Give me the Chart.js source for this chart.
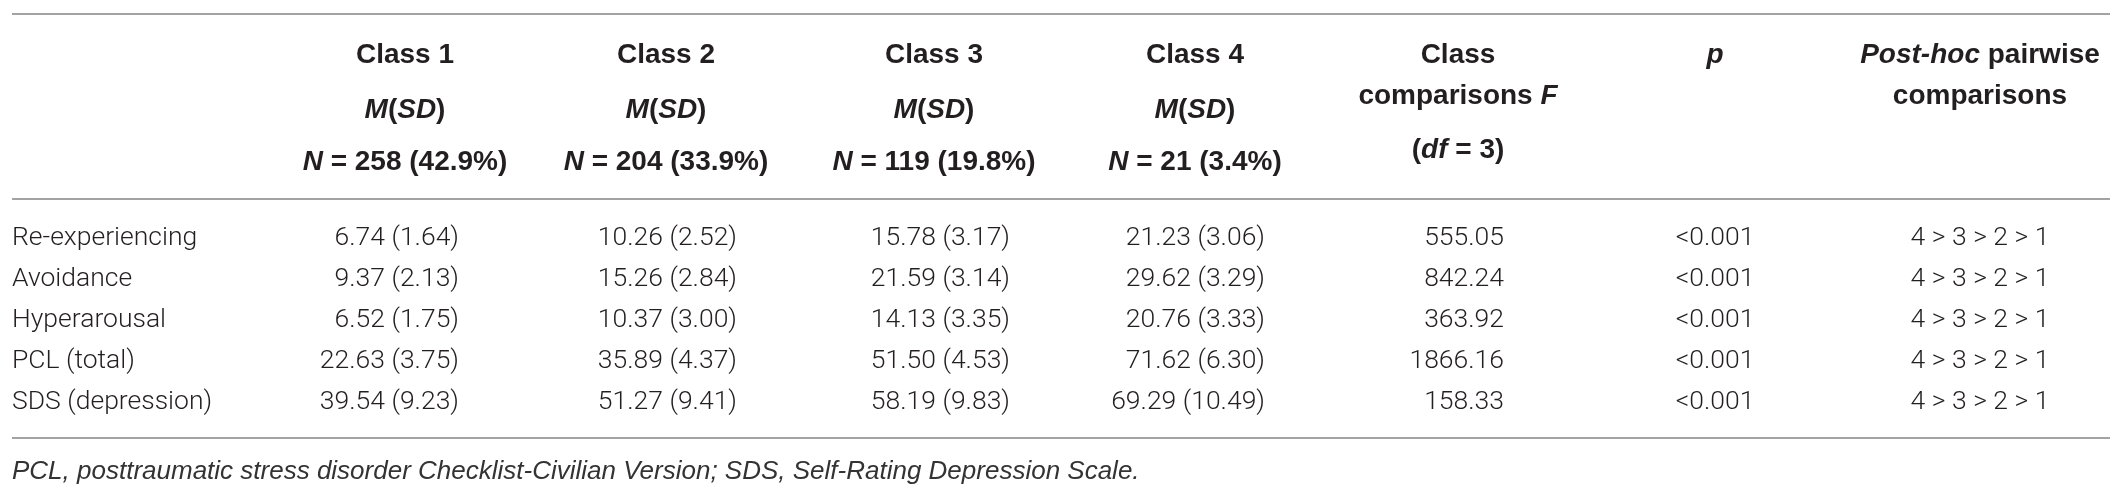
<!DOCTYPE html>
<html>
<head>
<meta charset="utf-8">
<script src="https://cdn.jsdelivr.net/npm/chart.js@4.4.1/dist/chart.umd.min.js"></script>
<style>
  html, body { margin: 0; padding: 0; background: #fff; }
  #wrap { width: 2128px; height: 501px; position: relative; }
</style>
</head>
<body>
<div id="wrap"><canvas id="tableChart"></canvas></div>
<script>
// Table content
var rowLabels = ["Re-experiencing", "Avoidance", "Hyperarousal", "PCL (total)", "SDS (depression)"];
var classNames = ["Class 1", "Class 2", "Class 3", "Class 4"];
var classN = [258, 204, 119, 21];
var classPct = [42.9, 33.9, 19.8, 3.4];

var class1Mean = [6.74, 9.37, 6.52, 22.63, 39.54];
var class1SD = [1.64, 2.13, 1.75, 3.75, 9.23];
var class2Mean = [10.26, 15.26, 10.37, 35.89, 51.27];
var class2SD = [2.52, 2.84, 3.0, 4.37, 9.41];
var class3Mean = [15.78, 21.59, 14.13, 51.5, 58.19];
var class3SD = [3.17, 3.14, 3.35, 4.53, 9.83];
var class4Mean = [21.23, 29.62, 20.76, 71.62, 69.29];
var class4SD = [3.06, 3.29, 3.33, 6.3, 10.49];

var fValues = [555.05, 842.24, 363.92, 1866.16, 158.33];
var pValues = ["<0.001", "<0.001", "<0.001", "<0.001", "<0.001"];
var postHoc = ["4 > 3 > 2 > 1", "4 > 3 > 2 > 1", "4 > 3 > 2 > 1", "4 > 3 > 2 > 1", "4 > 3 > 2 > 1"];

var footnote = "PCL, posttraumatic stress disorder Checklist-Civilian Version; SDS, Self-Rating Depression Scale.";

// Layout (pixel units of the x / y scales)
var ruleLeft = 12, ruleRight = 2110;
var rulesY = [14, 199, 438];
var labelX = 12;
var classHeadX = [405, 666, 934, 1195];
var classValueX = [459, 737, 1010, 1265];
var fHeadX = 1458, fValueX = 1504;
var pX = 1715, postHocX = 1980;
var headLineY = [55, 110, 162];
var wrapLineY = [55, 96, 150];
var bodyTop = 238, rowStep = 41;
var footY = 472;

var textColor = "#231f20";
var ruleColor = "#a3a3a3";
var headFont = "'Liberation Sans', Arial, sans-serif";
var bodyFont = "Roboto, 'Liberation Sans', sans-serif";

function rowY(i) { return bodyTop + i * rowStep; }

var means = [class1Mean, class2Mean, class3Mean, class4Mean];
var sds = [class1SD, class2SD, class3SD, class4SD];

// one scatter dataset per column; the plugin writes each point's text
var datasets = [];
datasets.push({
  cellText: rowLabels, align: "left",
  data: rowLabels.map(function (r, i) { return { x: labelX, y: rowY(i) }; })
});
means.forEach(function (m, c) {
  datasets.push({
    cellText: m.map(function (v, i) { return v.toFixed(2) + " (" + sds[c][i].toFixed(2) + ")"; }),
    align: "right",
    data: m.map(function (v, i) { return { x: classValueX[c], y: rowY(i) }; })
  });
});
datasets.push({
  cellText: fValues.map(function (v) { return v.toFixed(2); }), align: "right",
  data: fValues.map(function (v, i) { return { x: fValueX, y: rowY(i) }; })
});
datasets.push({
  cellText: pValues, align: "center",
  data: pValues.map(function (v, i) { return { x: pX, y: rowY(i) }; })
});
datasets.push({
  cellText: postHoc, align: "center",
  data: postHoc.map(function (v, i) { return { x: postHocX, y: rowY(i) }; })
});
datasets.forEach(function (d) { d.pointRadius = 0; d.pointHoverRadius = 0; });

// mixed upright / italic text, centered on x
function drawRich(ctx, parts, x, y, size) {
  var total = 0;
  parts.forEach(function (p) {
    ctx.font = (p[1] ? "italic " : "") + "bold " + size + "px " + headFont;
    p.w = ctx.measureText(p[0]).width;
    total += p.w;
  });
  var cx = x - total / 2;
  ctx.textAlign = "left";
  parts.forEach(function (p) {
    ctx.font = (p[1] ? "italic " : "") + "bold " + size + "px " + headFont;
    ctx.fillText(p[0], cx, y);
    cx += p.w;
  });
}

var tablePlugin = {
  id: "tablePlugin",
  afterDatasetsDraw: function (chart) {
    var ctx = chart.ctx;
    var xs = chart.scales.x, ys = chart.scales.y;
    ctx.save();

    // horizontal rules
    ctx.strokeStyle = ruleColor;
    ctx.lineWidth = 2;
    rulesY.forEach(function (v) {
      var py = ys.getPixelForValue(v);
      ctx.beginPath();
      ctx.moveTo(xs.getPixelForValue(ruleLeft), py);
      ctx.lineTo(xs.getPixelForValue(ruleRight), py);
      ctx.stroke();
    });

    ctx.fillStyle = textColor;
    ctx.textBaseline = "middle";

    // header
    var hs = 28;
    classNames.forEach(function (name, c) {
      var px = xs.getPixelForValue(classHeadX[c]);
      drawRich(ctx, [[name, false]], px, ys.getPixelForValue(headLineY[0]), hs);
      drawRich(ctx, [["M", true], ["(", false], ["SD", true], [")", false]], px, ys.getPixelForValue(headLineY[1]), hs);
      drawRich(ctx, [["N", true], [" = " + classN[c] + " (" + classPct[c].toFixed(1) + "%)", false]], px, ys.getPixelForValue(headLineY[2]), hs);
    });
    var fx = xs.getPixelForValue(fHeadX);
    drawRich(ctx, [["Class", false]], fx, ys.getPixelForValue(wrapLineY[0]), hs);
    drawRich(ctx, [["comparisons ", false], ["F", true]], fx, ys.getPixelForValue(wrapLineY[1]), hs);
    drawRich(ctx, [["(", false], ["df", true], [" = 3)", false]], fx, ys.getPixelForValue(wrapLineY[2]), hs);
    drawRich(ctx, [["p", true]], xs.getPixelForValue(pX), ys.getPixelForValue(headLineY[0]), hs);
    var phx = xs.getPixelForValue(postHocX);
    drawRich(ctx, [["Post-hoc", true], [" pairwise", false]], phx, ys.getPixelForValue(wrapLineY[0]), hs);
    drawRich(ctx, [["comparisons", false]], phx, ys.getPixelForValue(wrapLineY[1]), hs);

    // body cells, placed at each point the scales computed
    ctx.font = "300 26.5px " + bodyFont;
    chart.data.datasets.forEach(function (ds, di) {
      var meta = chart.getDatasetMeta(di);
      ctx.textAlign = ds.align;
      meta.data.forEach(function (pt, i) {
        ctx.fillText(ds.cellText[i], pt.x, pt.y);
      });
    });

    // footnote
    ctx.font = "italic 26px 'Liberation Sans', Arial, sans-serif";
    ctx.fillStyle = "#333333";
    ctx.textAlign = "left";
    ctx.fillText(footnote, xs.getPixelForValue(labelX), ys.getPixelForValue(footY));
    ctx.restore();
  }
};

var ctx = document.getElementById("tableChart").getContext("2d");
var myChart = new Chart(ctx, {
  type: "scatter",
  data: { datasets: datasets },
  options: {
    responsive: true,
    maintainAspectRatio: false,
    animation: false,
    events: [],
    layout: { padding: 0 },
    plugins: { legend: { display: false }, tooltip: { enabled: false } },
    scales: {
      x: { type: "linear", min: 0, max: 2128, display: false },
      y: { type: "linear", min: 0, max: 501, reverse: true, display: false }
    }
  },
  plugins: [tablePlugin]
});
</script>
</body>
</html>
